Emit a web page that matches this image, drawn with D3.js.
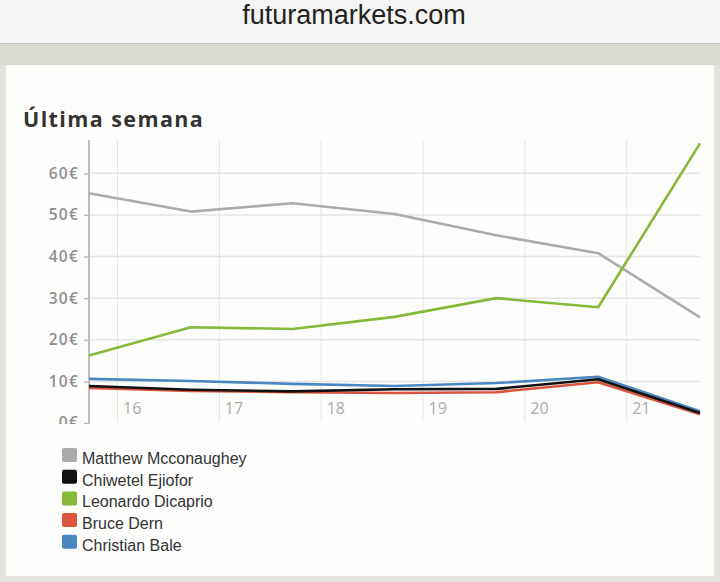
<!DOCTYPE html>
<html><head><meta charset="utf-8">
<script src="https://cdn.jsdelivr.net/npm/d3@7"></script>
<style>html,body{margin:0;padding:0;background:#fff;}svg{display:block;}</style>
</head><body>
<script>
const siteName = "futuramarkets.com";
const title = "Última semana";
const days = [15.72, 16.72, 17.72, 18.72, 19.72, 20.72, 21.72];
const dayTicks = [16, 17, 18, 19, 20, 21];
const euroTicks = [0, 10, 20, 30, 40, 50, 60];
const seriesNames = ["Matthew Mcconaughey", "Chiwetel Ejiofor", "Leonardo Dicaprio", "Bruce Dern", "Christian Bale"];
const seriesColors = ["#ababab", "#111111", "#86b83a", "#d9553f", "#4a87c0"];
const matthew   = [55.2, 50.8, 52.8, 50.2, 45.1, 40.8, 25.4];
const chiwetel  = [8.9, 8.0, 7.6, 8.1, 8.2, 10.5, 2.4];
const leonardo  = [16.2, 23.0, 22.6, 25.5, 30.0, 27.8, 67.2];
const bruce     = [8.4, 7.7, 7.4, 7.2, 7.4, 9.8, 2.1];
const christian = [10.6, 10.1, 9.4, 8.9, 9.6, 11.1, 2.8];
const seriesValues = [matthew, chiwetel, leonardo, bruce, christian];
const drawOrder = [0, 2, 4, 3, 1];

const W = 720, H = 582;
const svg = d3.select("body").append("svg").attr("width", W).attr("height", H);

// page chrome
svg.append("rect").attr("width", W).attr("height", H).attr("fill", "#e4e4de");
svg.append("rect").attr("x", 0).attr("y", 0).attr("width", W).attr("height", 44).attr("fill", "#f4f4f2");
svg.append("line").attr("x1", 0).attr("x2", W).attr("y1", 43.5).attr("y2", 43.5).attr("stroke", "#c8c8c4");
svg.append("rect").attr("x", 0).attr("y", 44).attr("width", W).attr("height", 21).attr("fill", "#dadad3");
svg.append("rect").attr("x", 6).attr("y", 65).attr("width", 708).attr("height", 511).attr("fill", "#fdfdfc");
svg.append("text").attr("x", 354).attr("y", 24).attr("text-anchor", "middle")
  .attr("font-family", "Liberation Sans, Arial, sans-serif").attr("font-size", 27)
  .attr("fill", "#222").text(siteName);

svg.append("text").attr("x", 23).attr("y", 127)
  .attr("font-family", "Open Sans, sans-serif").attr("font-weight", 700)
  .attr("font-size", 21.5).attr("letter-spacing", 1.4).attr("fill", "#333").text(title);

const x = d3.scaleLinear().domain([15.72, 21.72]).range([89, 700]);
const y = d3.scaleLinear().domain([0, 68]).range([423, 140]);

svg.append("defs").append("clipPath").attr("id", "clipc")
  .append("rect").attr("x", 0).attr("y", 100).attr("width", W).attr("height", 324);
const g = svg.append("g").attr("clip-path", "url(#clipc)");

// grid
g.append("g").selectAll("line").data(dayTicks).join("line")
  .attr("x1", d => x(d)).attr("x2", d => x(d)).attr("y1", 140).attr("y2", 422)
  .attr("stroke", "#e6e6e6").attr("stroke-width", 1);
g.append("g").selectAll("line").data(euroTicks.filter(d => d > 0)).join("line")
  .attr("x1", 89).attr("x2", 700).attr("y1", d => y(d)).attr("y2", d => y(d))
  .attr("stroke", "#e4e4e4").attr("stroke-width", 1.5);

// y axis
const yAxis = d3.axisLeft(y).tickValues(euroTicks).tickSize(5).tickPadding(5).tickFormat(d => d + "€");
const ya = g.append("g").attr("transform", "translate(89,0)").call(yAxis);
ya.select(".domain").attr("stroke", "#bdbdbd").attr("stroke-width", 2).attr("d", "M0,140V430");
ya.selectAll(".tick line").attr("stroke", "#bdbdbd").attr("stroke-width", 1.5);
ya.selectAll(".tick text").attr("font-family", "Open Sans, sans-serif").attr("font-weight", 600)
  .attr("font-size", 15.5).attr("letter-spacing", 1.2).attr("fill", "#8e8e8e");

// x labels
const xAxis = d3.axisBottom(x).tickValues(dayTicks).tickSize(0).tickFormat(d => d);
const xa = g.append("g").attr("transform", "translate(0,403)").call(xAxis);
xa.select(".domain").remove();
xa.selectAll(".tick text").attr("text-anchor", "start").attr("x", 5).attr("dy", "0.71em")
  .attr("y", 0).attr("font-family", "Open Sans, sans-serif").attr("font-size", 16).attr("fill", "#ababab");

// lines
const line = d3.line().x((d, i) => x(days[i])).y(d => y(d));
g.append("g").selectAll("path").data(drawOrder).join("path")
  .attr("d", i => line(seriesValues[i])).attr("fill", "none")
  .attr("stroke", i => seriesColors[i]).attr("stroke-width", 2.6).attr("stroke-linejoin", "round");

// legend
const lg = svg.append("g").selectAll("g").data(seriesNames).join("g")
  .attr("transform", (d, i) => `translate(62,${448 + i * 21.7})`);
lg.append("rect").attr("width", 15).attr("height", 14).attr("rx", 2)
  .attr("fill", (d, i) => seriesColors[i]);
lg.append("text").attr("x", 20).attr("y", 16).attr("font-family", "Liberation Sans, Arial, sans-serif")
  .attr("font-size", 16).attr("fill", "#333").text(d => d);
</script>
</body></html>
